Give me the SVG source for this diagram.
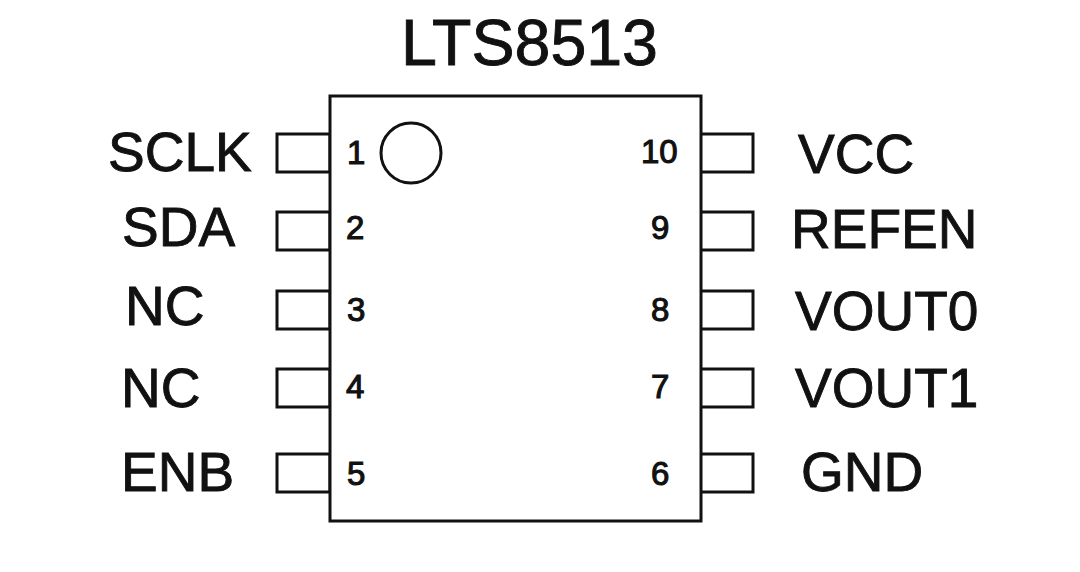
<svg xmlns="http://www.w3.org/2000/svg" width="1080" height="572" viewBox="0 0 1080 572">
<style>
.b{fill:#fff;stroke:#111;stroke-width:3}
.c{fill:none;stroke:#111;stroke-width:3}
.l{font-family:"Liberation Sans",Arial,sans-serif;font-size:55px;fill:#111;stroke:#111;stroke-width:.9}
.t{font-size:64.5px}
.n{font-family:"Liberation Sans",Arial,sans-serif;font-size:33px;fill:#111;stroke:#111;stroke-width:1.1}
</style>
<rect width="1080" height="572" fill="#fff"/>
<g id="connectors">
<rect class="c" x="277" y="134" width="53" height="38"/>
<rect class="c" x="277" y="212" width="53" height="38"/>
<rect class="c" x="277" y="291" width="53" height="38"/>
<rect class="c" x="277" y="369" width="53" height="38"/>
<rect class="c" x="277" y="454" width="53" height="38"/>
<rect class="c" x="700" y="134" width="53" height="38"/>
<rect class="c" x="700" y="212" width="53" height="38"/>
<rect class="c" x="700" y="291" width="53" height="38"/>
<rect class="c" x="700" y="369" width="53" height="38"/>
<rect class="c" x="700" y="454" width="53" height="38"/>
</g>
<g id="chip">
<rect class="b" x="330" y="96" width="371" height="425"/>
<circle class="b" cx="411" cy="153" r="30"/>
<text class="l t" x="401" y="65">LTS8513</text>
</g>
<g id="pin1"><text class="l" x="108" y="171">SCLK</text><text class="n" x="347" y="164">1</text></g>
<g id="pin2"><text class="l" x="122" y="246">SDA</text><text class="n" x="346" y="239">2</text></g>
<g id="pin3"><text class="l" x="125" y="325">NC</text><text class="n" x="347" y="321">3</text></g>
<g id="pin4"><text class="l" x="121" y="407">NC</text><text class="n" x="346" y="398">4</text></g>
<g id="pin5"><text class="l" x="121" y="491">ENB</text><text class="n" x="347" y="485">5</text></g>
<g id="pin10"><text class="l" x="798" y="173">VCC</text><text class="n" x="641" y="163">10</text></g>
<g id="pin9"><text class="l" x="791" y="248">REFEN</text><text class="n" x="651" y="239">9</text></g>
<g id="pin8"><text class="l" x="795" y="330">VOUT0</text><text class="n" x="651" y="321">8</text></g>
<g id="pin7"><text class="l" x="795" y="407">VOUT1</text><text class="n" x="651" y="398">7</text></g>
<g id="pin6"><text class="l" x="801" y="491">GND</text><text class="n" x="651" y="485">6</text></g>
</svg>
